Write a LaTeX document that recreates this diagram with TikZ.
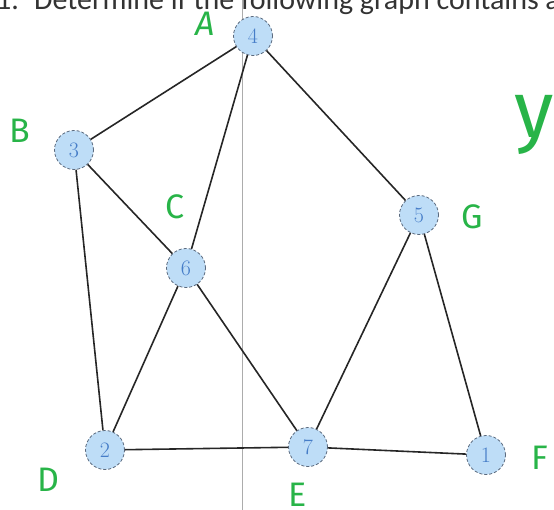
\documentclass[tikz,border=0pt]{standalone}
\usepackage{fontspec}
\newfontfamily\topfont{Carlito}
\newfontfamily\hand{Fira Sans}
\definecolor{nodefill}{RGB}{190,221,247}
\definecolor{nodeborder}{RGB}{90,105,125}
\definecolor{numblue}{RGB}{70,125,200}
\definecolor{handgreen}{RGB}{40,180,72}
\begin{document}
\begin{tikzpicture}[x=1pt,y=-1pt,
  vtx/.style={circle, minimum size=39pt, inner sep=0pt, fill=nodefill, draw=nodeborder,
    densely dashed, line width=0.8pt, text=numblue, font=\fontsize{22}{22}\selectfont},
  edge/.style={line width=1.6pt, black!85},
  hlabel/.style={text=handgreen, font=\hand\fontsize{34}{34}\selectfont, inner sep=0pt},
  titletext/.style={anchor=base west, inner sep=0pt, text=black!80, font=\topfont\fontsize{30}{30}\selectfont}]
\useasboundingbox (0,0) rectangle (554,510);
\clip (0,0) rectangle (554,510);
\draw[gray!65, line width=1pt] (242,0) -- (242,510);
\node[titletext] (num) at (-4,10) {1.};
\node[titletext] (title) at (34,10) {Determine if the following graph contains a};
% vertices
\node[vtx] (n4) at (253,36) {4};
\node[vtx] (n3) at (74,150) {3};
\node[vtx] (n6) at (186,268) {6};
\node[vtx] (n5) at (419,215) {5};
\node[vtx] (n2) at (105,450) {2};
\node[vtx] (n7) at (308,447) {7};
\node[vtx] (n1) at (486,455) {1};
% edges
\draw[edge] (n4) -- (n3);
\draw[edge] (n4) -- (n6);
\draw[edge] (n4) -- (n5);
\draw[edge] (n3) -- (n6);
\draw[edge] (n3) -- (n2);
\draw[edge] (n6) -- (n2);
\draw[edge] (n6) -- (n7);
\draw[edge] (n5) -- (n7);
\draw[edge] (n5) -- (n1);
\draw[edge] (n2) -- (n7);
\draw[edge] (n7) -- (n1);
% handwritten labels
\node[hlabel] (lA) at (205,24) {\itshape A};
\node[hlabel] (lB) at (20,131) {B};
\node[hlabel] (lC) at (175,207) {C};
\node[hlabel] (lG) at (472,217) {G};
\node[hlabel] (lD) at (48,480) {D};
\node[hlabel] (lE) at (298,495) {E};
\node[hlabel] (lF) at (540,458) {F};
\node[hlabel, font=\hand\fontsize{80}{80}\selectfont] (ly) at (534,125) {y};
\end{tikzpicture}
\end{document}
